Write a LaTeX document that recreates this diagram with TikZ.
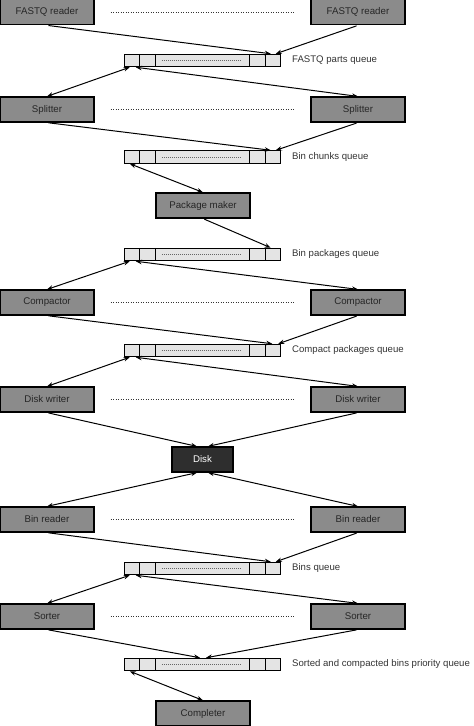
\documentclass[tikz,border=0pt]{standalone}
\usepackage{fontspec}
\setmainfont{Liberation Sans}
\usetikzlibrary{arrows.meta}
\definecolor{boxgray}{HTML}{8B8B8B}
\definecolor{qgray}{HTML}{E4E4E4}
\definecolor{diskc}{HTML}{2E2E2E}
\tikzset{
  proc/.style={draw=black, line width=1.2pt, fill=boxgray, minimum width=94pt,
    minimum height=25pt, inner sep=0pt, font=\fontsize{9.7}{11}\selectfont, text=black!85},
  diskbox/.style={proc, fill=diskc, minimum width=61pt, text=white},
  queuebox/.style={draw=black, line width=1pt, fill=qgray, minimum width=156.5pt,
    minimum height=12.5pt, inner sep=0pt},
  qlabel/.style={anchor=west, inner sep=0pt, font=\fontsize{9.6}{11}\selectfont, text=black!80},
  flow/.style={line width=1pt, shorten <=1.5pt, -{Stealth[length=6pt,width=4.5pt]}},
  bflow/.style={line width=1pt, {Stealth[length=6pt,width=4.5pt]}-{Stealth[length=6pt,width=4.5pt]}},
  dotline/.style={line width=0.9pt, dash pattern=on 0.9pt off 1.6pt, black!80},
  qdots/.style={line width=0.6pt, dash pattern=on 0.6pt off 1.4pt, black!60},
  qdiv/.style={line width=0.8pt}
}
\newcommand\myqueue[1]{%
  \draw[qdiv] ([xshift=16pt]#1.north west) -- ([xshift=16pt]#1.south west);
  \draw[qdiv] ([xshift=32pt]#1.north west) -- ([xshift=32pt]#1.south west);
  \draw[qdiv] ([xshift=-31.5pt]#1.north east) -- ([xshift=-31.5pt]#1.south east);
  \draw[qdiv] ([xshift=-15.5pt]#1.north east) -- ([xshift=-15.5pt]#1.south east);
  \draw[qdots] ([xshift=38pt]#1.west) -- ([xshift=-40pt]#1.east);
}
\begin{document}
\begin{tikzpicture}[x=1pt,y=-1pt]
\useasboundingbox (0,0) rectangle (474,726);

% nodes
\node[proc] (rl) at (47,12.25) {FASTQ reader};
\node[proc] (rr) at (358,12.25) {FASTQ reader};
\node[queuebox] (q1) at (202.5,60.5) {};
\node[qlabel] (l1) at (292,60.5) {FASTQ parts queue};

\node[proc] (sl) at (47,109.5) {Splitter};
\node[proc] (sr) at (358,109.5) {Splitter};
\node[queuebox] (q2) at (202.5,157) {};
\node[qlabel] (l2) at (292,157) {Bin chunks queue};

\node[proc] (pm) at (203,205.5) {Package maker};
\node[queuebox] (q3) at (202.5,254.5) {};
\node[qlabel] (l3) at (292,254.5) {Bin packages queue};

\node[proc] (cl) at (47,302.5) {Compactor};
\node[proc] (cr) at (358,302.5) {Compactor};
\node[queuebox] (q4) at (202.5,350.5) {};
\node[qlabel] (l4) at (292,350.5) {Compact packages queue};

\node[proc] (dl) at (47,399.5) {Disk writer};
\node[proc] (dr) at (358,399.5) {Disk writer};
\node[diskbox] (disk) at (202.5,459.5) {Disk};

\node[proc] (bl) at (47,519.5) {Bin reader};
\node[proc] (br) at (358,519.5) {Bin reader};
\node[queuebox] (q5) at (202.5,568.5) {};
\node[qlabel] (l5) at (292,568.5) {Bins queue};

\node[proc] (ol) at (47,616.5) {Sorter};
\node[proc] (or) at (358,616.5) {Sorter};
\node[queuebox] (q6) at (202.5,664.5) {};
\node[qlabel] (l6) at (292,664.5) {Sorted and compacted bins priority queue};

\node[proc] (comp) at (203,713.5) {Completer};

% queue cells
\foreach \q in {q1,q2,q3,q4,q5,q6} {\myqueue{\q}}

% dotted links between parallel workers
\foreach \a/\b in {rl/rr, sl/sr, cl/cr, dl/dr, bl/br, ol/or}
  {\draw[dotline] ([xshift=16pt]\a.east) -- ([xshift=-16pt]\b.west);}

% FASTQ readers -> queue
\draw[flow] (rl.south) -- ([xshift=-10.5pt]q1.north east);
\draw[flow] (rr.south) -- ([xshift=-5.5pt]q1.north east);
\draw[bflow] ([xshift=6pt]q1.south west) -- (sl.north);
\draw[bflow] ([xshift=12pt]q1.south west) -- (sr.north);

% Splitters -> bin chunks queue
\draw[flow] (sl.south) -- ([xshift=-10.5pt]q2.north east);
\draw[flow] (sr.south) -- ([xshift=-5.5pt]q2.north east);
\draw[bflow] ([xshift=6pt]q2.south west) -- (pm.north);

% Package maker -> bin packages queue
\draw[flow] (pm.south) -- ([xshift=-10.5pt]q3.north east);
\draw[bflow] ([xshift=6pt]q3.south west) -- (cl.north);
\draw[bflow] ([xshift=12pt]q3.south west) -- (cr.north);

% Compactors -> compact packages queue
\draw[flow] (cl.south) -- ([xshift=-9pt]q4.north east);
\draw[flow] (cr.south) -- ([xshift=-3pt]q4.north east);
\draw[bflow] ([xshift=6pt]q4.south west) -- (dl.north);
\draw[bflow] ([xshift=12pt]q4.south west) -- (dr.north);

% Disk writers -> disk
\draw[flow] (dl.south) -- ([xshift=-5.5pt]disk.north);
\draw[flow] (dr.south) -- ([xshift=5.5pt]disk.north);
\draw[bflow] ([xshift=-5.5pt]disk.south) -- (bl.north);
\draw[bflow] ([xshift=5.5pt]disk.south) -- (br.north);

% Bin readers -> bins queue
\draw[flow] (bl.south) -- ([xshift=-10.5pt]q5.north east);
\draw[flow] (br.south) -- ([xshift=-5.5pt]q5.north east);
\draw[bflow] ([xshift=6pt]q5.south west) -- (ol.north);
\draw[bflow] ([xshift=12pt]q5.south west) -- (or.north);

% Sorters -> priority queue
\draw[flow] (ol.south) -- ([xshift=-2.5pt]q6.north);
\draw[flow] (or.south) -- ([xshift=3.5pt]q6.north);
\draw[bflow] ([xshift=6pt]q6.south west) -- (comp.north);
\end{tikzpicture}
\end{document}
